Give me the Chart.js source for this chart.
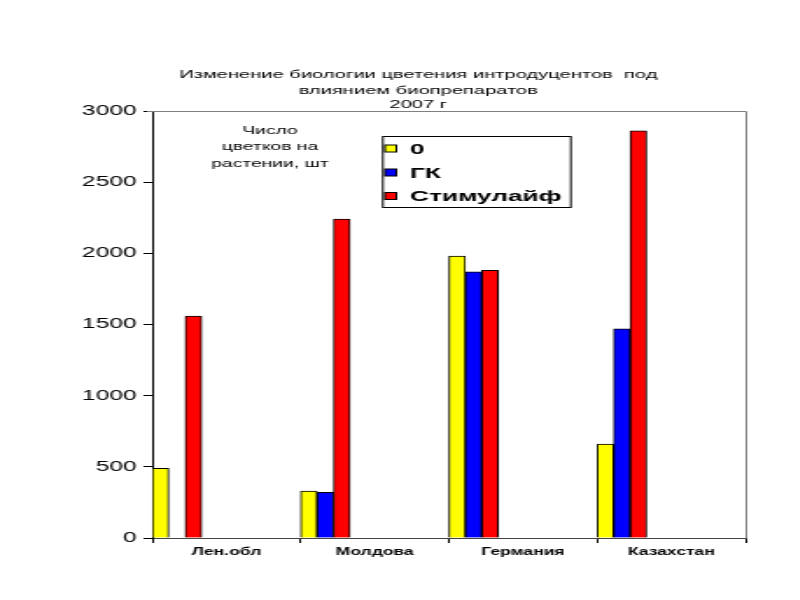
<!DOCTYPE html>
<html>
<head>
<meta charset="utf-8">
<script src="https://cdn.jsdelivr.net/npm/chart.js@4.4.0/dist/chart.umd.min.js"></script>
<style>
  html, body { margin: 0; padding: 0; background: #fff; overflow: hidden; }
  /* the original slide is stretched sideways, so the whole chart is too */
  #wrap { width: 457px; height: 600px; transform: scaleX(1.75); transform-origin: 0 0; }
</style>
</head>
<body>
<div id="wrap"><canvas id="chart" width="457" height="600"></canvas></div>
<script>
// Data
const categories = ['Лен.обл', 'Молдова', 'Германия', 'Казахстан'];
const seriesNames = ['0', 'ГК', 'Стимулайф'];
const seriesColors = ['#ffff00', '#0000ff', '#ff0000'];
const valuesControl = [490, 330, 1980, 660];
const valuesGK = [null, 320, 1870, 1470];
const valuesStim = [1560, 2240, 1880, 2860];
const titleLines = ['Изменение биологии цветения интродуцентов  под', 'влиянием биопрепаратов', '2007 г'];
const noteLines = ['Число', 'цветков на', 'растении, шт'];

const FONT = "'Liberation Sans', Arial, sans-serif";

const datasets = [valuesControl, valuesGK, valuesStim].map((vals, i) => ({
    label: seriesNames[i],
    data: vals,
    backgroundColor: seriesColors[i],
    borderColor: '#000',
    borderWidth: 1
}));
// empty slots so each group sits at the left of its category like the original
for (let i = 0; i < 6; i++) {
    datasets.push({ label: '', data: categories.map(() => null) });
}

// title, plot frame, inside text and legend box
const extras = {
    id: 'extras',
    afterDatasetsDraw(chart) {
        const ctx = chart.ctx;
        const a = chart.chartArea;
        ctx.save();
        ctx.strokeStyle = '#808080';
        ctx.lineWidth = 1;
        ctx.beginPath();
        ctx.moveTo(a.left - 3, a.top + 0.5);
        ctx.lineTo(a.right + 0.5, a.top + 0.5);
        ctx.lineTo(a.right + 0.5, a.bottom);
        ctx.stroke();

        ctx.fillStyle = '#000';
        ctx.textAlign = 'center';
        ctx.textBaseline = 'middle';

        // title (the original sits off centre, so it is placed by hand)
        ctx.font = '11.5px ' + FONT;
        const titleY = [75, 90.5, 105];
        titleLines.forEach((t, i) => ctx.fillText(t, 239, titleY[i]));

        // note text
        ctx.font = '11px ' + FONT;
        const noteY = [131, 147, 164];
        noteLines.forEach((t, i) => ctx.fillText(t, 154.3, noteY[i]));

        // legend
        const lx = 218.3, ly = 136, lw = 107.4, lh = 71;
        ctx.fillStyle = '#fff';
        ctx.fillRect(lx, ly, lw, lh);
        ctx.strokeStyle = '#000';
        ctx.strokeRect(lx + 0.5, ly + 0.5, lw, lh);
        const rowY = [148.5, 172.5, 196];
        ctx.font = 'bold 15px ' + FONT;
        ctx.textAlign = 'left';
        seriesNames.forEach((name, i) => {
            ctx.fillStyle = seriesColors[i];
            ctx.fillRect(220, rowY[i] - 3.5, 6.5, 7);
            ctx.strokeStyle = '#000';
            ctx.strokeRect(220, rowY[i] - 3.5, 6.5, 7);
            ctx.fillStyle = '#000';
            ctx.fillText(name, 234.3, rowY[i] + 1);
        });
        ctx.restore();
    }
};

new Chart(document.getElementById('chart'), {
    type: 'bar',
    data: { labels: categories, datasets: datasets },
    options: {
        responsive: false,
        animation: false,
        devicePixelRatio: 1,
        layout: { padding: { left: 21, right: 31, top: 111, bottom: 0 } },
        datasets: { bar: { categoryPercentage: 1, barPercentage: 1 } },
        plugins: {
            legend: { display: false },
            tooltip: { enabled: false },
            title: { display: false }
        },
        scales: {
            x: {
                afterFit(scale) { scale.height = 62; },
                grid: { drawOnChartArea: false, offset: true, tickLength: 5, color: '#000' },
                border: { color: '#444', width: 1 },
                ticks: { color: '#000', padding: 3, font: { family: FONT, size: 10, weight: 'bold' } }
            },
            y: {
                min: 0,
                max: 3000,
                afterFit(scale) { scale.width = 66; },
                grid: { drawOnChartArea: false, tickLength: 5, color: '#000' },
                border: { color: '#000', width: 1 },
                ticks: {
                    stepSize: 500,
                    color: '#000',
                    padding: 4,
                    font: { family: FONT, size: 14 },
                    callback: v => String(v)
                }
            }
        }
    },
    plugins: [extras]
});
</script>
</body>
</html>
